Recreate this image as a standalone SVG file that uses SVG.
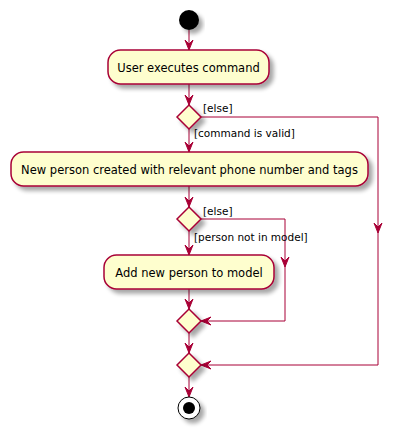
<svg xmlns="http://www.w3.org/2000/svg" width="403" height="435" viewBox="0 0 403 435">
<style>
.node{fill:#FEFECE;stroke:#A80036;stroke-width:1.5;filter:url(#sh)}
.lbl{font-family:"DejaVu Sans",Verdana,sans-serif;font-size:11.5px;fill:#000}
.grd{font-family:"DejaVu Sans",Verdana,sans-serif;font-size:10.5px;fill:#000}
.con path{fill:none;stroke:#A80036;stroke-width:1}
</style>
<defs>
<filter id="sh" x="-20%" y="-20%" width="150%" height="160%">
<feGaussianBlur in="SourceAlpha" stdDeviation="2" result="b"/>
<feOffset in="b" dx="4" dy="4" result="o"/>
<feComponentTransfer in="o" result="c"><feFuncA type="linear" slope="0.35"/></feComponentTransfer>
<feMerge><feMergeNode in="c"/><feMergeNode in="SourceGraphic"/></feMerge>
</filter>
<marker id="ah" viewBox="0 0 10 10" refX="10" refY="5" markerWidth="10" markerHeight="10" markerUnits="userSpaceOnUse" orient="auto">
<path d="M0,1 L10,5 L0,9 L4,5 Z" fill="#A80036" stroke="#A80036" stroke-width="1"/>
</marker>
</defs>

<g id="connectors" class="con">
<path d="M189,30 V50" marker-end="url(#ah)"/>
<path d="M189,84 V105" marker-end="url(#ah)"/>
<path d="M201,117 H378 V233" marker-end="url(#ah)"/>
<path d="M378,233 V365 H201" marker-end="url(#ah)"/>
<path d="M189,129 V152" marker-end="url(#ah)"/>
<path d="M189,186 V207" marker-end="url(#ah)"/>
<path d="M201,219 H285 V267" marker-end="url(#ah)"/>
<path d="M285,267 V321 H201" marker-end="url(#ah)"/>
<path d="M189,231 V255" marker-end="url(#ah)"/>
<path d="M189,289 V309" marker-end="url(#ah)"/>
<path d="M189,333 V353" marker-end="url(#ah)"/>
<path d="M189,377 V397" marker-end="url(#ah)"/>
<text class="grd" x="203" y="112">[else]</text>
<text class="grd" x="194" y="137">[command is valid]</text>
<text class="grd" x="203" y="215">[else]</text>
<text class="grd" x="194" y="241">[person not in model]</text>
</g>

<g id="start"><circle cx="189" cy="20" r="10" fill="#000" filter="url(#sh)"/></g>

<g id="userExecutes">
<rect class="node" x="108" y="50" width="161" height="34" rx="12.5"/>
<text class="lbl" x="188.5" y="71.5" text-anchor="middle">User executes command</text>
</g>

<g id="validCheck"><polygon class="node" points="177,117 189,105 201,117 189,129"/></g>

<g id="newPerson">
<rect class="node" x="11" y="152" width="357" height="34" rx="12.5"/>
<text class="lbl" x="189.5" y="173.5" text-anchor="middle">New person created with relevant phone number and tags</text>
</g>

<g id="modelCheck"><polygon class="node" points="177,219 189,207 201,219 189,231"/></g>

<g id="addPerson">
<rect class="node" x="104" y="255" width="170" height="34" rx="12.5"/>
<text class="lbl" x="189" y="276.5" text-anchor="middle">Add new person to model</text>
</g>

<g id="merge1"><polygon class="node" points="177,321 189,309 201,321 189,333"/></g>
<g id="merge2"><polygon class="node" points="177,365 189,353 201,365 189,377"/></g>

<g id="end">
<circle cx="189" cy="408" r="11" fill="#fff" stroke="#000" stroke-width="1" filter="url(#sh)"/>
<circle cx="189" cy="408" r="6" fill="#000"/>
</g>
</svg>
